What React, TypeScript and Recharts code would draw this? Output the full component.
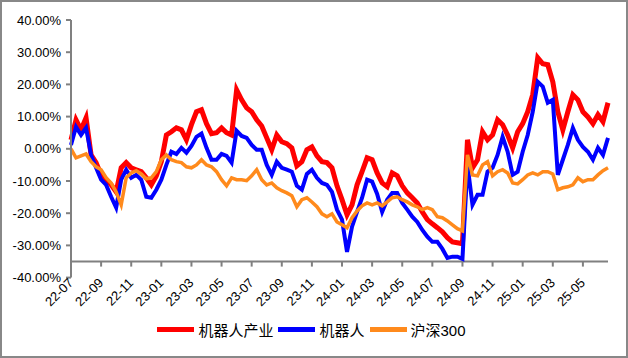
import React from 'react';
import { LineChart, Line, XAxis, YAxis, ReferenceLine, Legend } from 'recharts';

// x labels, one every 6 points (points are ~1/3 month apart)
const tickLabels = [
  '22-07', '22-09', '22-11', '23-01', '23-03', '23-05', '23-07', '23-09', '23-11',
  '24-01', '24-03', '24-05', '24-07', '24-09', '24-11', '25-01', '25-03', '25-05',
];
const POINTS_PER_TICK = 6;

const yTicks = [-40, -30, -20, -10, 0, 10, 20, 30, 40];

// 机器人产业
const robotIndustry = [
  2.8, 9.0, 5.9, 9.6, -1.9, -4.3, -8.1, -9.6, -11.2, -13.4,
  -5.9, -4.3, -5.9, -6.5, -7.1, -9.0, -11.2, -8.4, -4.0, 4.3,
  5.3, 6.5, 5.9, 2.8, 7.5, 11.5, 12.1, 7.8, 4.7, 5.0,
  6.5, 5.0, 4.3, 18.3, 15.2, 12.7, 11.5, 9.0, 7.1, 3.4,
  -0.3, 4.3, 2.2, 1.6, 0.3, -5.3, -4.0, -0.3, 0.6, -2.2,
  -4.0, -4.3, -5.9, -11.5, -15.8, -20.5, -17.4, -11.2, -7.1, -2.8,
  -3.4, -7.5, -10.6, -11.8, -7.5, -8.4, -11.5, -13.7, -15.2, -16.8,
  -19.6, -22.0, -23.3, -24.5, -25.8, -27.6, -28.9, -29.2, -29.5, 2.8,
  -5.9, -3.4, 5.3, 2.8, 4.3, 9.0, 7.5, 4.3, 0.3, 5.3,
  7.8, 11.5, 16.8, 28.3, 26.4, 26.1, 20.8, 11.5, 5.9, 11.5,
  16.8, 15.2, 11.5, 9.9, 7.8, 10.6, 8.4, 14.3,
];

// 机器人
const robot = [
  1.2, 6.8, 4.3, 6.5, -1.9, -5.9, -9.6, -11.2, -14.9, -18.3,
  -9.6, -6.5, -9.0, -8.1, -9.6, -14.9, -15.2, -12.7, -9.6, -5.0,
  -0.9, -1.6, 0.3, -1.2, 0.9, 3.7, 4.7, 0.3, -3.4, -3.4,
  -1.6, -2.2, -4.3, 5.6, 4.0, 3.4, 1.2, -0.3, -0.3, -5.0,
  -8.1, -4.0, -5.9, -6.5, -7.1, -11.5, -12.7, -7.8, -6.5, -9.0,
  -10.6, -11.2, -13.4, -18.9, -22.0, -32.0, -24.2, -19.6, -15.2, -9.6,
  -10.2, -14.0, -19.6, -15.8, -13.7, -13.7, -16.8, -18.9, -21.1, -22.7,
  -25.2, -27.3, -28.9, -28.9, -31.1, -33.9, -33.5, -33.5, -34.2, -5.0,
  -17.4, -14.3, -14.3, -7.1, -5.9, -1.9, 3.7, -0.9, -8.1, -7.1,
  -0.9, 4.3, 11.5, 20.8, 19.3, 14.3, 15.2, -8.1, -3.4, 1.2,
  6.5, 2.8, 0.6, -0.9, -3.4, 0.3, -1.9, 3.4,
];

// 沪深300
const hs300 = [
  0, -2.8, -2.2, -1.6, -4.0, -5.6, -6.5, -9.0, -10.6, -13.4,
  -17.4, -9.0, -7.5, -6.8, -7.8, -9.3, -9.0, -7.1, -3.4, -1.9,
  -3.4, -4.0, -4.3, -5.6, -5.9, -5.0, -3.4, -5.0, -5.6, -7.1,
  -9.6, -11.5, -9.0, -9.6, -9.6, -9.9, -8.4, -6.5, -9.6, -11.2,
  -10.6, -12.1, -13.0, -13.7, -14.6, -18.0, -15.8, -15.2, -16.5, -18.0,
  -20.2, -21.1, -20.2, -22.7, -23.6, -24.5, -21.4, -19.3, -17.7, -16.8,
  -17.4, -16.8, -17.7, -16.5, -15.2, -14.9, -15.8, -16.5, -17.4, -18.0,
  -18.9, -18.3, -18.9, -21.1, -21.4, -22.4, -23.6, -24.8, -25.5, -1.9,
  -8.1, -8.4, -5.0, -4.0, -8.4, -7.1, -6.5, -7.5, -10.6, -10.9,
  -9.6, -8.1, -7.5, -8.1, -7.1, -7.1, -7.8, -12.7, -12.1, -11.8,
  -11.2, -9.0, -10.2, -9.6, -9.6, -8.1, -6.8, -5.9,
];

const seriesKeys = ['robotIndustry', 'robot', 'hs300'];

const data = robotIndustry.map((v, i) => ({
  i,
  robotIndustry: v,
  robot: robot[i],
  hs300: hs300[i],
}));

const xTicks = tickLabels.map((_, k) => k * POINTS_PER_TICK);

const FONT = "Arial, 'Liberation Sans', 'Noto Sans CJK SC', sans-serif";
const AXIS_GRAY = '#808080';
const X_AXIS_AT = -35; // where the category axis crosses
const AXIS_SHIFT = 16; // px between plot bottom (-40%) and the crossing line

function XTick(props: any) {
  const { x, y, payload } = props;
  const label = tickLabels[Math.round(payload.value / POINTS_PER_TICK)];
  const y0 = y - AXIS_SHIFT;
  const tx = x + 3;
  const ty = y0 + 22;
  return (
    <g>
      <line x1={x} y1={y0} x2={x} y2={y0 + 5} stroke={AXIS_GRAY} strokeWidth={2} />
      <text
        x={tx}
        y={ty}
        transform={`rotate(-45 ${tx} ${ty})`}
        textAnchor="end"
        fontSize={13}
        fontFamily={FONT}
        fill="#000"
      >
        {label}
      </text>
    </g>
  );
}

function LegendRow(props: any) {
  const payload = [...(props.payload || [])].sort(
    (a: any, b: any) => seriesKeys.indexOf(a.dataKey) - seriesKeys.indexOf(b.dataKey)
  );
  return (
    <div
      style={{
        display: 'flex',
        justifyContent: 'center',
        alignItems: 'center',
        height: 20,
        fontFamily: FONT,
        fontSize: 15,
        color: '#000',
      }}
    >
      {payload.map((entry: any) => (
        <div key={entry.value} style={{ display: 'flex', alignItems: 'center', marginRight: 5 }}>
          <div style={{ width: 37, height: 5, background: entry.color, marginRight: 4 }} />
          <span>{entry.value}</span>
        </div>
      ))}
    </div>
  );
}

export default function App() {
  return (
    <div
      style={{
        position: 'absolute',
        left: 0,
        top: 0,
        width: 628,
        height: 358,
        background: '#fff',
        boxShadow: 'inset 0 0 0 2px #888',
      }}
    >
      <LineChart width={628} height={358} data={data} margin={{ top: 20, right: 20, left: 0, bottom: 19 }}>
        <XAxis
          dataKey="i"
          type="number"
          domain={[0, data.length - 1]}
          ticks={xTicks}
          interval={0}
          axisLine={false}
          tickLine={false}
          tickSize={0}
          tickMargin={0}
          height={41.4}
          tick={<XTick />}
        />
        <YAxis
          domain={[-40, 40]}
          ticks={yTicks}
          interval={0}
          allowDataOverflow
          width={71}
          tickFormatter={(v: number) => `${v.toFixed(2)}%`}
          axisLine={{ stroke: AXIS_GRAY, strokeWidth: 2 }}
          tickLine={{ stroke: AXIS_GRAY, strokeWidth: 2 }}
          tickSize={5}
          tickMargin={5}
          tick={{ fontSize: 13, fill: '#000', fontFamily: FONT }}
        />
        <ReferenceLine y={X_AXIS_AT} stroke={AXIS_GRAY} strokeWidth={2} />
        <Legend
          verticalAlign="bottom"
          height={20}
          wrapperStyle={{ left: 0, width: 628 }}
          content={<LegendRow />}
        />
        <Line
          name="机器人产业"
          type="linear"
          dataKey="robotIndustry"
          stroke="#FF0000"
          strokeWidth={5}
          dot={false}
          activeDot={false}
          isAnimationActive={false}
        />
        <Line
          name="机器人"
          type="linear"
          dataKey="robot"
          stroke="#0000FF"
          strokeWidth={4}
          dot={false}
          activeDot={false}
          isAnimationActive={false}
        />
        <Line
          name="沪深300"
          type="linear"
          dataKey="hs300"
          stroke="#FF8A1C"
          strokeWidth={3.5}
          dot={false}
          activeDot={false}
          isAnimationActive={false}
        />
      </LineChart>
    </div>
  );
}
